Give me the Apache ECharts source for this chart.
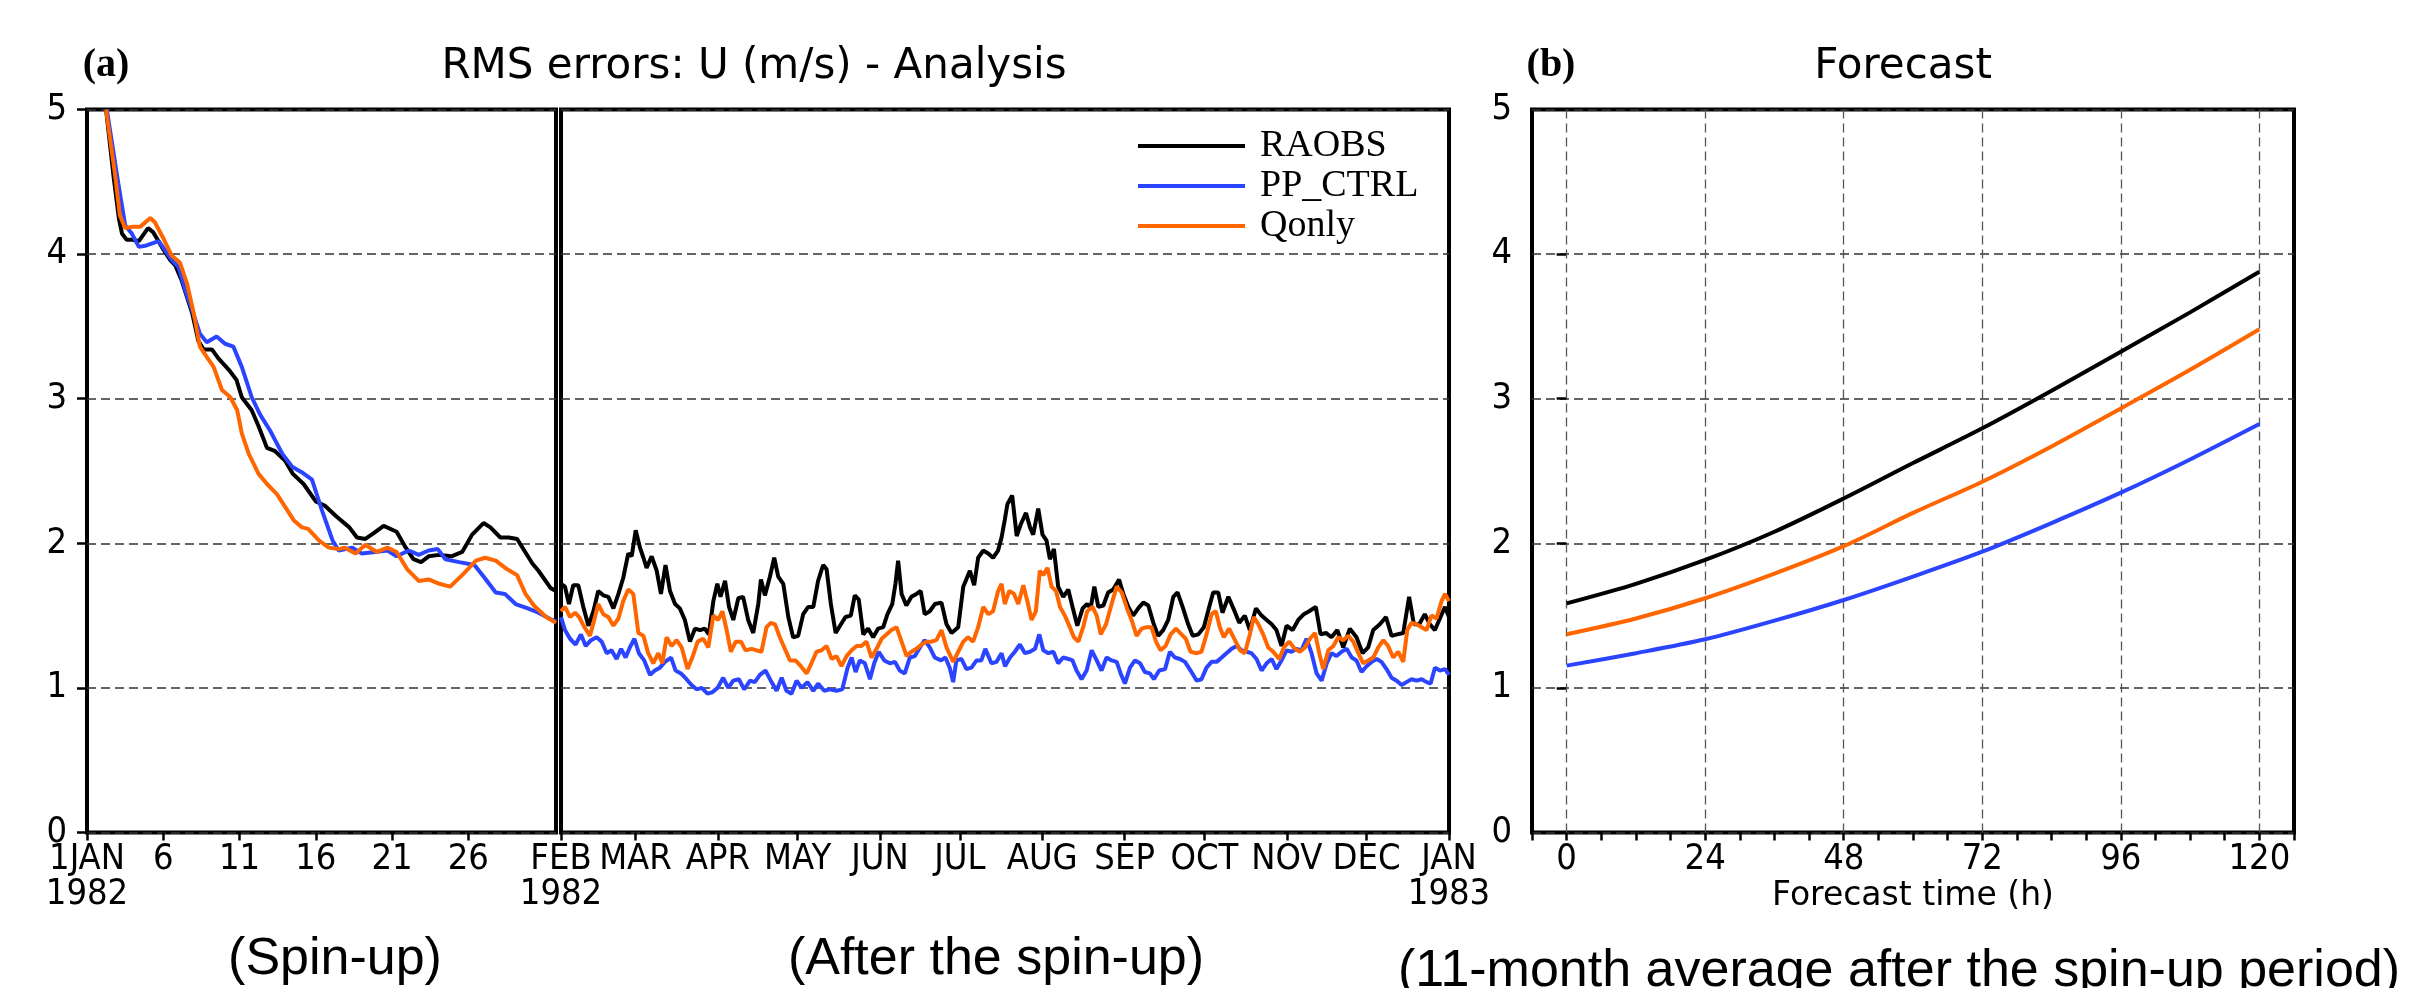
<!DOCTYPE html>
<html>
<head>
<meta charset="utf-8">
<title>RMS errors: U (m/s)</title>
<script src="https://cdn.jsdelivr.net/npm/echarts@6/dist/echarts.min.js"></script>
<style>
html,body{margin:0;padding:0;background:#fff;}
#chart{width:2424px;height:988px;}
</style>
</head>
<body>
<div id="chart"></div>
<script>
// ---------- data ----------
// x of the spin-up panel: days since 1 Jan 1982 00Z
var spinTicks = [0, 5, 10, 15, 20, 25];
var spinTickLabels = ['1JAN\n1982', '6', '11', '16', '21', '26'];
// x of the second panel: days since 1 Feb 1982
var monthTicks = [0, 28, 59, 89, 120, 150, 181, 212, 242, 273, 303, 334];
var monthTickLabels = ['FEB\n1982', 'MAR', 'APR', 'MAY', 'JUN', 'JUL', 'AUG', 'SEP', 'OCT', 'NOV', 'DEC', 'JAN\n1983'];
var fcstTicks = [0, 24, 48, 72, 96, 120];
var fcstHours = [0, 12, 24, 36, 48, 60, 72, 84, 96, 108, 120];

var seriesNames = ['RAOBS', 'PP_CTRL', 'Qonly'];
var seriesColors = ['#000000', '#2b44ff', '#ff6600'];

// spin-up (January)
var spinRaobs = [[1.25,5.0],[1.75,4.53],[2.1,4.24],[2.3,4.14],[2.6,4.10],[2.9,4.10],[3.4,4.09],[4.0,4.18],[4.35,4.15],[4.9,4.05],[5.45,3.96],[5.8,3.92],[6.2,3.82],[6.9,3.59],[7.3,3.40],[7.65,3.34],[8.2,3.34],[8.6,3.28],[9.3,3.20],[9.8,3.13],[10.15,3.01],[10.8,2.92],[11.25,2.81],[11.8,2.66],[12.3,2.64],[13.0,2.57],[13.5,2.48],[14.2,2.41],[15.0,2.29],[15.6,2.26],[16.3,2.19],[17.2,2.11],[17.7,2.04],[18.25,2.03],[18.8,2.07],[19.45,2.12],[20.3,2.08],[20.9,1.97],[21.4,1.89],[21.9,1.87],[22.4,1.91],[23.1,1.92],[23.9,1.91],[24.6,1.94],[25.25,2.06],[26.0,2.14],[26.45,2.11],[27.1,2.04],[27.65,2.04],[28.2,2.03],[29.2,1.86],[29.6,1.81],[30.4,1.69],[30.75,1.67]];
var spinPpctrl = [[1.3,5.0],[2.05,4.49],[2.5,4.2],[2.95,4.14],[3.4,4.05],[3.9,4.06],[4.7,4.09],[5.1,4.03],[5.55,3.96],[6.0,3.91],[6.45,3.75],[6.9,3.61],[7.4,3.45],[7.85,3.39],[8.5,3.43],[9.05,3.38],[9.6,3.36],[10.15,3.22],[10.8,3.01],[11.35,2.89],[12.0,2.78],[12.8,2.62],[13.45,2.53],[14.1,2.49],[14.75,2.44],[15.4,2.23],[16.1,2.02],[16.5,1.95],[17.4,1.97],[18.0,1.93],[18.9,1.94],[19.7,1.95],[20.3,1.91],[21.1,1.95],[21.75,1.92],[22.4,1.95],[23.0,1.96],[23.5,1.89],[24.4,1.87],[25.4,1.85],[26.0,1.77],[26.8,1.66],[27.4,1.65],[28.1,1.58],[28.9,1.55],[29.6,1.52],[30.5,1.47],[30.75,1.46]];
var spinQonly = [[1.25,5.0],[1.85,4.54],[2.15,4.27],[2.5,4.18],[3.05,4.19],[3.5,4.19],[4.15,4.25],[4.45,4.22],[5.0,4.11],[5.55,3.99],[6.1,3.94],[6.55,3.80],[7.0,3.59],[7.4,3.36],[7.85,3.29],[8.3,3.22],[8.85,3.06],[9.4,3.01],[9.85,2.92],[10.15,2.76],[10.6,2.62],[11.25,2.48],[11.8,2.41],[12.45,2.34],[13.0,2.25],[13.55,2.16],[14.1,2.11],[14.5,2.10],[15.2,2.02],[15.85,1.97],[16.5,1.96],[16.9,1.97],[17.6,1.93],[18.25,1.99],[19.0,1.94],[19.7,1.97],[20.3,1.94],[21.0,1.82],[21.75,1.74],[22.4,1.75],[23.1,1.72],[23.8,1.70],[24.6,1.78],[25.5,1.88],[26.1,1.90],[26.8,1.88],[27.55,1.82],[28.2,1.78],[28.75,1.65],[29.3,1.57],[30.1,1.49],[30.75,1.45]];

// after the spin-up (Feb 1982 - Jan 1983)
var afterRaobs = [[0.0,1.72],[1.5,1.70],[3.0,1.58],[4.6,1.71],[6.5,1.71],[8.4,1.56],[10.3,1.43],[12.2,1.53],[14.0,1.67],[15.9,1.64],[17.8,1.63],[19.7,1.55],[21.6,1.65],[23.4,1.76],[25.3,1.93],[26.6,1.91],[28.1,2.09],[29.7,1.97],[31.0,1.90],[32.2,1.83],[34.1,1.91],[36.0,1.81],[37.6,1.65],[39.3,1.85],[41.0,1.67],[42.9,1.58],[44.7,1.55],[46.6,1.47],[48.5,1.32],[50.4,1.41],[52.3,1.40],[54.1,1.41],[55.6,1.37],[57.3,1.60],[58.8,1.72],[60.0,1.63],[61.7,1.74],[63.2,1.56],[64.8,1.47],[66.7,1.62],[68.5,1.63],[70.4,1.47],[72.3,1.38],[74.2,1.58],[75.2,1.75],[76.7,1.64],[78.6,1.77],[80.2,1.90],[81.7,1.77],[83.6,1.72],[85.5,1.49],[87.3,1.35],[89.2,1.36],[91.1,1.51],[93.0,1.56],[94.9,1.56],[96.7,1.74],[98.6,1.85],[99.9,1.82],[101.5,1.58],[103.3,1.38],[105.3,1.44],[107.0,1.49],[109.0,1.50],[110.5,1.64],[112.0,1.61],[113.7,1.37],[115.5,1.41],[117.4,1.35],[119.3,1.41],[121.2,1.42],[122.8,1.51],[124.6,1.58],[125.8,1.72],[126.8,1.88],[128.1,1.65],[129.9,1.57],[131.8,1.63],[133.7,1.65],[135.3,1.67],[136.8,1.51],[138.7,1.53],[140.6,1.58],[143.1,1.59],[145.0,1.44],[146.9,1.38],[149.4,1.42],[151.3,1.70],[153.8,1.81],[155.4,1.71],[156.9,1.90],[158.8,1.95],[160.7,1.93],[162.5,1.90],[164.4,1.95],[165.7,2.04],[166.9,2.16],[167.9,2.27],[169.7,2.33],[171.4,2.05],[172.9,2.13],[174.9,2.21],[176.4,2.11],[177.6,2.06],[179.5,2.24],[181.1,2.06],[182.6,2.02],[183.9,1.89],[185.4,1.96],[187.0,1.70],[188.9,1.63],[190.8,1.68],[192.4,1.56],[194.2,1.43],[196.2,1.55],[197.9,1.58],[199.2,1.55],[200.6,1.70],[202.1,1.56],[204.0,1.57],[205.8,1.66],[207.7,1.68],[209.9,1.75],[211.5,1.65],[213.4,1.56],[215.2,1.50],[217.1,1.55],[219.0,1.59],[220.9,1.57],[222.8,1.45],[224.6,1.36],[226.5,1.40],[228.4,1.47],[230.3,1.63],[231.9,1.66],[233.8,1.56],[235.9,1.44],[237.6,1.36],[239.7,1.37],[241.8,1.42],[243.8,1.56],[245.3,1.66],[247.2,1.66],[248.8,1.52],[251.0,1.63],[252.9,1.55],[255.1,1.45],[257.2,1.50],[259.1,1.40],[261.4,1.55],[263.5,1.50],[265.4,1.47],[267.3,1.44],[269.1,1.40],[271.0,1.29],[272.9,1.43],[275.2,1.40],[277.3,1.47],[279.4,1.51],[281.4,1.53],[283.9,1.56],[285.7,1.37],[287.7,1.38],[289.8,1.35],[292.0,1.40],[294.2,1.28],[296.7,1.41],[299.2,1.35],[301.5,1.24],[303.6,1.28],[305.5,1.40],[308.0,1.44],[310.3,1.49],[312.4,1.36],[314.5,1.37],[316.8,1.38],[319.0,1.63],[320.8,1.44],[322.8,1.44],[324.9,1.51],[326.8,1.44],[328.7,1.40],[330.8,1.49],[332.5,1.56],[334.0,1.49]];
var afterPpctrl = [[0.0,1.49],[1.5,1.40],[3.4,1.34],[5.5,1.30],[7.5,1.37],[9.3,1.29],[11.3,1.33],[13.4,1.35],[15.3,1.32],[17.2,1.24],[19.0,1.26],[20.9,1.20],[22.6,1.27],[24.3,1.21],[25.9,1.28],[27.6,1.34],[29.3,1.24],[31.3,1.19],[33.5,1.09],[35.3,1.12],[37.2,1.14],[39.1,1.18],[41.4,1.21],[43.1,1.12],[45.1,1.10],[47.2,1.06],[49.1,1.02],[51.0,0.99],[52.9,1.00],[55.1,0.96],[56.9,0.97],[58.9,1.00],[61.0,1.07],[62.9,1.00],[64.8,1.05],[66.9,1.06],[68.9,0.99],[71.1,1.05],[72.9,1.04],[74.8,1.09],[76.9,1.12],[78.9,1.05],[81.1,0.98],[83.0,1.07],[84.8,0.98],[86.7,0.96],[88.6,1.05],[90.5,1.00],[92.7,1.04],[94.9,0.98],[96.7,1.03],[99.0,0.98],[101.1,0.99],[103.6,0.98],[105.8,0.99],[107.8,1.14],[109.3,1.21],[110.8,1.11],[112.4,1.19],[114.3,1.17],[116.2,1.06],[117.8,1.17],[119.5,1.25],[121.6,1.19],[123.7,1.17],[125.6,1.18],[127.4,1.12],[129.3,1.10],[131.2,1.21],[133.1,1.22],[135.0,1.28],[136.8,1.33],[138.7,1.28],[140.6,1.21],[142.9,1.19],[144.6,1.21],[146.2,1.14],[147.5,1.04],[148.7,1.19],[150.6,1.20],[152.5,1.13],[154.4,1.14],[156.3,1.19],[158.1,1.19],[159.6,1.27],[161.9,1.17],[163.8,1.18],[165.7,1.24],[167.0,1.15],[168.9,1.21],[170.7,1.25],[172.6,1.30],[174.5,1.24],[176.4,1.25],[178.3,1.27],[179.9,1.37],[181.4,1.26],[183.3,1.24],[185.2,1.25],[187.0,1.17],[188.9,1.21],[190.8,1.20],[192.4,1.19],[193.9,1.12],[195.8,1.06],[197.7,1.12],[199.6,1.26],[201.5,1.19],[203.3,1.12],[205.2,1.21],[207.1,1.19],[209.0,1.18],[210.5,1.10],[212.1,1.03],[214.0,1.14],[215.9,1.19],[217.8,1.17],[219.6,1.11],[221.5,1.10],[223.0,1.06],[225.0,1.12],[227.2,1.13],[229.0,1.25],[230.9,1.21],[232.8,1.20],[234.7,1.18],[236.8,1.12],[239.1,1.05],[240.9,1.06],[242.8,1.14],[244.7,1.18],[246.6,1.18],[248.5,1.21],[250.3,1.24],[252.2,1.27],[254.1,1.29],[256.0,1.26],[257.9,1.25],[259.7,1.24],[261.6,1.20],[263.5,1.12],[265.4,1.17],[267.3,1.20],[269.1,1.13],[271.0,1.19],[272.9,1.26],[274.8,1.25],[276.7,1.27],[278.5,1.26],[280.4,1.34],[282.3,1.24],[284.2,1.10],[286.1,1.05],[288.0,1.17],[289.8,1.24],[291.7,1.22],[293.6,1.25],[295.5,1.27],[297.4,1.21],[299.2,1.19],[301.1,1.11],[303.0,1.15],[304.9,1.18],[306.8,1.20],[308.6,1.18],[310.5,1.13],[312.4,1.07],[314.3,1.05],[316.2,1.02],[318.0,1.04],[319.9,1.06],[321.8,1.05],[323.7,1.06],[325.6,1.04],[327.1,1.03],[328.7,1.14],[330.6,1.12],[332.5,1.13],[334.0,1.09]];
var afterQonly = [[0.0,1.53],[1.5,1.56],[3.4,1.49],[5.3,1.52],[6.8,1.49],[8.8,1.42],[10.9,1.36],[12.5,1.47],[14.0,1.58],[15.9,1.51],[17.8,1.49],[19.7,1.43],[21.6,1.48],[23.4,1.60],[25.3,1.68],[27.2,1.65],[29.1,1.38],[31.0,1.36],[32.8,1.24],[34.7,1.17],[36.6,1.24],[38.1,1.17],[39.7,1.35],[41.6,1.29],[43.5,1.33],[45.4,1.28],[47.6,1.13],[49.4,1.21],[51.4,1.32],[53.5,1.34],[55.4,1.28],[57.3,1.50],[59.1,1.47],[60.7,1.53],[62.3,1.40],[63.9,1.25],[65.7,1.32],[67.7,1.32],[69.4,1.26],[71.7,1.27],[73.6,1.26],[75.4,1.25],[77.3,1.42],[78.9,1.45],[80.5,1.44],[82.3,1.35],[84.2,1.27],[86.1,1.19],[88.2,1.19],[90.2,1.15],[92.4,1.10],[94.2,1.17],[96.1,1.25],[98.0,1.26],[99.9,1.29],[101.8,1.20],[103.6,1.22],[105.5,1.15],[107.4,1.22],[109.3,1.26],[111.2,1.29],[113.0,1.29],[114.9,1.32],[116.8,1.21],[118.7,1.27],[120.6,1.34],[122.4,1.37],[124.3,1.40],[126.2,1.42],[128.1,1.32],[130.0,1.22],[131.8,1.25],[133.7,1.27],[135.6,1.30],[137.5,1.32],[139.3,1.32],[141.2,1.33],[143.1,1.40],[145.0,1.28],[147.5,1.18],[149.4,1.25],[151.3,1.32],[153.1,1.35],[155.0,1.32],[156.9,1.42],[158.8,1.56],[160.7,1.51],[162.5,1.53],[164.4,1.67],[165.7,1.72],[166.9,1.58],[168.6,1.67],[170.4,1.65],[172.0,1.58],[173.9,1.71],[175.4,1.60],[177.0,1.47],[178.6,1.53],[180.1,1.81],[181.4,1.78],[183.0,1.83],[184.5,1.70],[186.2,1.67],[187.7,1.56],[189.5,1.50],[191.4,1.42],[192.9,1.35],[194.6,1.32],[196.4,1.42],[197.9,1.53],[199.9,1.56],[201.5,1.50],[203.0,1.37],[205.0,1.44],[207.1,1.58],[209.0,1.70],[210.9,1.66],[212.7,1.56],[214.6,1.47],[216.5,1.36],[218.4,1.41],[220.3,1.42],[222.1,1.42],[223.8,1.32],[225.5,1.26],[227.4,1.29],[229.3,1.37],[231.3,1.41],[233.4,1.37],[235.0,1.34],[236.8,1.25],[239.1,1.24],[240.9,1.25],[242.8,1.37],[244.7,1.51],[246.3,1.53],[247.8,1.42],[249.3,1.35],[251.3,1.41],[253.5,1.33],[255.4,1.26],[257.2,1.24],[259.1,1.37],[260.6,1.49],[262.3,1.44],[264.1,1.37],[266.0,1.28],[267.9,1.25],[270.1,1.20],[271.9,1.28],[273.9,1.32],[276.0,1.27],[277.9,1.25],[279.8,1.28],[281.7,1.34],[283.6,1.38],[285.2,1.24],[286.7,1.13],[288.6,1.26],[290.5,1.29],[292.3,1.35],[294.2,1.33],[296.1,1.36],[298.0,1.32],[299.9,1.24],[301.7,1.17],[303.6,1.19],[305.5,1.21],[307.4,1.28],[309.3,1.33],[311.1,1.29],[313.0,1.21],[314.9,1.25],[316.8,1.18],[318.3,1.40],[319.9,1.45],[321.8,1.44],[323.7,1.42],[325.5,1.40],[327.4,1.50],[329.3,1.48],[331.2,1.60],[332.5,1.65],[334.0,1.60]];

// forecast, 11-month average
var fcstRaobs = [1.585, 1.72, 1.885, 2.08, 2.31, 2.555, 2.795, 3.055, 3.325, 3.597, 3.878];
var fcstPpctrl = [1.154, 1.24, 1.336, 1.465, 1.608, 1.77, 1.942, 2.14, 2.35, 2.58, 2.825];
var fcstQonly = [1.371, 1.48, 1.62, 1.79, 1.98, 2.21, 2.426, 2.67, 2.933, 3.2, 3.48];

// ---------- styles ----------
var tickFont = "'Liberation Sans Narrow', 'DejaVu Sans Condensed', sans-serif";
var TOP = 109.5, HEIGHT = 723;

function pick(ticks, labels) {
    return function (v) {
        var i = ticks.indexOf(v);
        return i < 0 ? '' : labels[i];
    };
}

function gridOpt(left, width) {
    return {left: left, top: TOP, width: width, height: HEIGHT, show: true,
        borderColor: '#000', borderWidth: 4, backgroundColor: 'transparent'};
}

function yAxisOpt(idx, showLabel) {
    return {
        type: 'value', gridIndex: idx, min: 0, max: 5, interval: 1,
        axisLine: {show: false},
        axisTick: {show: showLabel, length: 10, lineStyle: {color: '#000', width: 2.5}},
        axisLabel: {show: showLabel, margin: 20, color: '#000', fontFamily: tickFont, fontSize: 36},
        splitLine: {show: true, lineStyle: {color: '#333', width: 1.5, type: [9, 5]}}
    };
}

var xLabelStyle = {margin: 10, color: '#000', fontFamily: tickFont, fontSize: 36, lineHeight: 35, hideOverlap: false};
var xTickStyle = {length: 8, lineStyle: {color: '#000', width: 2.5}};

function lineSeries(name, color, xi, data, smooth) {
    return {
        name: name, type: 'line', xAxisIndex: xi, yAxisIndex: xi,
        data: data, showSymbol: false, symbol: 'none', smooth: smooth || false,
        lineStyle: {color: color, width: 4}, itemStyle: {color: color},
        silent: true, z: 3
    };
}

function withHours(vals) {
    return fcstHours.map(function (h, i) { return [h, vals[i]]; });
}

var series = [];
var spinData = [spinRaobs, spinPpctrl, spinQonly];
var afterData = [afterRaobs, afterPpctrl, afterQonly];
var fcstData = [fcstRaobs, fcstPpctrl, fcstQonly];
for (var k = 0; k < 3; k++) {
    series.push(lineSeries(seriesNames[k], seriesColors[k], 0, spinData[k]));
    series.push(lineSeries(seriesNames[k], seriesColors[k], 1, afterData[k]));
    series.push(lineSeries(seriesNames[k], seriesColors[k], 2, withHours(fcstData[k]), 0.3));
}
// vertical dashed lines of the forecast panel
series.unshift({
    type: 'line', xAxisIndex: 2, yAxisIndex: 2, data: [], silent: true,
    markLine: {
        silent: true, symbol: ['none', 'none'], label: {show: false}, z: 1,
        lineStyle: {color: '#555', width: 1.3, type: [9, 5]},
        data: fcstTicks.map(function (v) { return {xAxis: v}; })
    }
});

function txt(text, x, y, font, align) {
    return {
        type: 'text', x: x, y: y, silent: true,
        style: {text: text, font: font, fill: '#000',
            textAlign: align || 'center', textVerticalAlign: 'middle',
            align: align || 'center', verticalAlign: 'middle'}
    };
}

// month labels after FEB go on the main axis, the FEB 1982 label on its own axis
var monthLabelTicks = monthTicks.slice(1);

var option = {
    animation: false,
    backgroundColor: '#fff',
    grid: [gridOpt(87, 469), gridOpt(561, 888), gridOpt(1532, 762)],
    xAxis: [
        {type: 'value', gridIndex: 0, min: 0, max: 30.75,
            axisLine: {show: false}, splitLine: {show: false},
            axisTick: Object.assign({customValues: spinTicks}, xTickStyle),
            axisLabel: Object.assign({customValues: spinTicks, formatter: pick(spinTicks, spinTickLabels)}, xLabelStyle)},
        {type: 'value', gridIndex: 1, min: 0, max: 334,
            axisLine: {show: false}, splitLine: {show: false},
            axisTick: Object.assign({customValues: monthTicks}, xTickStyle),
            axisLabel: Object.assign({customValues: monthLabelTicks, formatter: pick(monthTicks, monthTickLabels)}, xLabelStyle)},
        {type: 'value', gridIndex: 2, min: -6, max: 126, interval: 6,
            axisLine: {show: false}, splitLine: {show: false},
            axisTick: xTickStyle,
            axisLabel: Object.assign({interval: 0, formatter: function (v) {
                return fcstTicks.indexOf(v) < 0 ? '' : String(v);
            }}, xLabelStyle)},
        {type: 'value', gridIndex: 1, min: 0, max: 334, position: 'bottom', offset: 0,
            axisLine: {show: false}, splitLine: {show: false}, axisTick: {show: false},
            axisLabel: Object.assign({customValues: [monthTicks[0]], showMinLabel: true,
                formatter: pick(monthTicks, monthTickLabels)}, xLabelStyle)}
    ],
    yAxis: [yAxisOpt(0, true), yAxisOpt(1, false), yAxisOpt(2, true)],
    legend: {
        orient: 'vertical', left: 1133, top: 121, itemGap: 0,
        itemWidth: 107, itemHeight: 4, icon: 'rect', selectedMode: false,
        textStyle: {color: '#000', fontFamily: "'Liberation Serif', serif", fontSize: 38,
            lineHeight: 40, padding: [0, 0, 0, 10]},
        data: seriesNames
    },
    graphic: [
        txt('(a)', 106, 66, "bold 40px 'Liberation Serif', serif"),
        txt('RMS errors: U (m/s) - Analysis', 754, 67, "42px 'DejaVu Sans', sans-serif"),
        txt('(b)', 1551, 66, "bold 40px 'Liberation Serif', serif"),
        txt('Forecast', 1903, 67, "42px 'DejaVu Sans', sans-serif"),
        txt('Forecast time (h)', 1913, 896, "33px 'DejaVu Sans', sans-serif"),
        txt('(Spin-up)', 335, 960, "52px 'Liberation Sans', sans-serif"),
        txt('(After the spin-up)', 996, 960, "52px 'Liberation Sans', sans-serif"),
        txt('(11-month average after the spin-up period)', 1398, 972, "52px 'Liberation Sans', sans-serif", 'left')
    ],
    series: series
};

var chart = echarts.init(document.getElementById('chart'), null, {renderer: 'canvas'});
chart.setOption(option);
</script>
</body>
</html>
